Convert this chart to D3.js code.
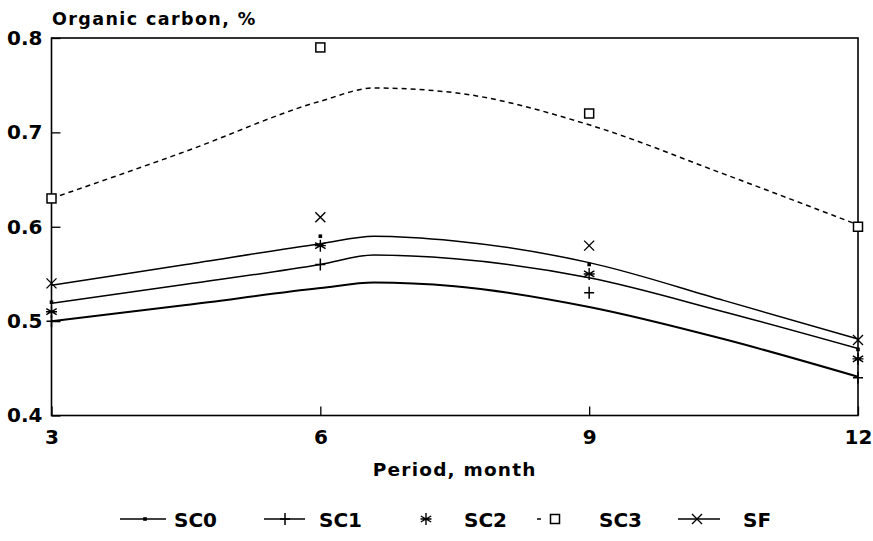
<!DOCTYPE html>
<html>
<head>
<meta charset="utf-8">
<script src="https://cdn.jsdelivr.net/npm/d3@7"></script>
<style>
  html, body { margin: 0; padding: 0; background: #fff; }
  svg { display: block; }
  text { font-family: "DejaVu Sans", Arial, sans-serif; font-weight: bold; fill: #000; }
</style>
</head>
<body>
<svg id="chart" width="873" height="541"></svg>
<script>
// Measured organic carbon (%) by sampling month
const months = [3, 6, 9, 12];
const sc0 = [0.52, 0.59, 0.56, 0.47];
const sc1 = [0.50, 0.56, 0.53, 0.44];
const sc2 = [0.51, 0.58, 0.55, 0.46];
const sc3 = [0.63, 0.79, 0.72, 0.60];
const sf  = [0.54, 0.61, 0.58, 0.48];

// Fitted trend curves
const fitMonths = [3, 4.5, 6, 6.6, 7.5, 9, 10.5, 12];
const sc0Fit = [0.519, 0.539, 0.560, 0.570, 0.566, 0.546, 0.510, 0.471];
const sc1Fit = [0.500, 0.517, 0.535, 0.541, 0.537, 0.515, 0.481, 0.441];
const sc3Fit = [0.630, 0.680, 0.733, 0.747, 0.742, 0.708, 0.656, 0.602];
const sfFit  = [0.538, 0.560, 0.582, 0.590, 0.585, 0.562, 0.522, 0.481];

const xTicks = [3, 6, 9, 12];
const yTicks = [0.4, 0.5, 0.6, 0.7, 0.8];
const legendNames = ["SC0", "SC1", "SC2", "SC3", "SF"];

const svg = d3.select("#chart");
const plotL = 51.5, plotR = 858, plotT = 38, plotB = 415.5;

const x = d3.scaleLinear().domain([3, 12]).range([plotL, plotR]);
const y = d3.scaleLinear().domain([0.4, 0.8]).range([plotB, plotT]);

// frame
svg.append("rect")
  .attr("x", plotL).attr("y", plotT)
  .attr("width", plotR - plotL).attr("height", plotB - plotT)
  .attr("fill", "none").attr("stroke", "#000").attr("stroke-width", 1.6);

// axes with inward ticks
const yAxis = svg.append("g").attr("transform", `translate(${plotL},0)`)
  .call(d3.axisLeft(y).tickValues(yTicks).tickFormat(d3.format(".1f"))
    .tickSizeInner(-9).tickSizeOuter(0).tickPadding(9));
yAxis.select(".domain").remove();
yAxis.selectAll("line").attr("stroke", "#000").attr("stroke-width", 1.3);
yAxis.selectAll("text").attr("font-size", 20).attr("font-family", null);

const xAxis = svg.append("g").attr("transform", `translate(0,${plotB})`)
  .call(d3.axisBottom(x).tickValues(xTicks).tickFormat(d3.format("d"))
    .tickSizeInner(-9).tickSizeOuter(0).tickPadding(14));
xAxis.select(".domain").remove();
xAxis.selectAll("line").attr("stroke", "#000").attr("stroke-width", 1.3);
xAxis.selectAll("text").attr("font-size", 20).attr("font-family", null);

// titles
svg.append("text").attr("x", 52).attr("y", 25).attr("font-size", 17.5)
  .attr("letter-spacing", 1.4)
  .text("Organic carbon, %");
svg.append("text").attr("x", (plotL + plotR) / 2).attr("y", 476)
  .attr("text-anchor", "middle").attr("font-size", 18.5)
  .attr("letter-spacing", 1.2)
  .text("Period, month");

// trend curves
const line = d3.line().x(d => x(d[0])).y(d => y(d[1])).curve(d3.curveMonotoneX);
const pairs = vals => fitMonths.map((m, i) => [m, vals[i]]);
const plot = svg.append("g");
plot.append("path").datum(pairs(sc3Fit)).attr("d", line)
  .attr("fill", "none").attr("stroke", "#000").attr("stroke-width", 1.5)
  .attr("stroke-dasharray", "5,4");
[[sfFit, 1.5], [sc0Fit, 1.5], [sc1Fit, 2]].forEach(([vals, w]) => {
  plot.append("path").datum(pairs(vals)).attr("d", line)
    .attr("fill", "none").attr("stroke", "#000").attr("stroke-width", w);
});

// marker drawing helpers
const symbols = {
  dot: (g) => g.append("rect").attr("x", -1.8).attr("y", -1.8).attr("width", 3.6).attr("height", 3.6).attr("fill", "#000"),
  plus: (g) => g.append("path").attr("d", "M-5,0H5M0,-6V6").attr("stroke", "#000").attr("stroke-width", 1.5).attr("fill", "none"),
  star: (g) => g.append("path").attr("d", "M0,-6V6M-5.2,-3L5.2,3M-5.2,3L5.2,-3M-5.5,0H5.5").attr("stroke", "#000").attr("stroke-width", 1.4).attr("fill", "none"),
  square: (g) => g.append("rect").attr("x", -4.5).attr("y", -4.5).attr("width", 9).attr("height", 9).attr("fill", "#fff").attr("stroke", "#000").attr("stroke-width", 1.5),
  cross: (g) => g.append("path").attr("d", "M-5,-5L5,5M-5,5L5,-5").attr("stroke", "#000").attr("stroke-width", 1.4).attr("fill", "none")
};

const seriesList = [
  { vals: sc0, sym: "dot" },
  { vals: sc1, sym: "plus" },
  { vals: sc2, sym: "star" },
  { vals: sc3, sym: "square" },
  { vals: sf,  sym: "cross" }
];
seriesList.forEach(s => {
  months.forEach((m, i) => {
    const g = plot.append("g").attr("transform", `translate(${x(m)},${y(s.vals[i])})`);
    symbols[s.sym](g);
  });
});

// legend
const legendY = 519;
const legendItems = [
  { name: legendNames[0], sym: "dot",    x0: 120, x1: 166, sx: 145, tx: 174, line: "solid" },
  { name: legendNames[1], sym: "plus",   x0: 264, x1: 305, sx: 285, tx: 319, line: "solid" },
  { name: legendNames[2], sym: "star",   x0: null, x1: null, sx: 426, tx: 464, line: "none" },
  { name: legendNames[3], sym: "square", x0: 537, x1: 541, sx: 555, tx: 599, line: "dash" },
  { name: legendNames[4], sym: "cross",  x0: 678, x1: 720, sx: 697, tx: 743, line: "solid" }
];
const lg = svg.append("g");
legendItems.forEach(it => {
  if (it.line !== "none") {
    lg.append("line").attr("x1", it.x0).attr("x2", it.x1)
      .attr("y1", legendY).attr("y2", legendY)
      .attr("stroke", "#000").attr("stroke-width", 1.5);
  }
  const g = lg.append("g").attr("transform", `translate(${it.sx},${legendY})`);
  symbols[it.sym](g);
  lg.append("text").attr("x", it.tx).attr("y", legendY + 7.5).attr("font-size", 20).text(it.name);
});
</script>
</body>
</html>
